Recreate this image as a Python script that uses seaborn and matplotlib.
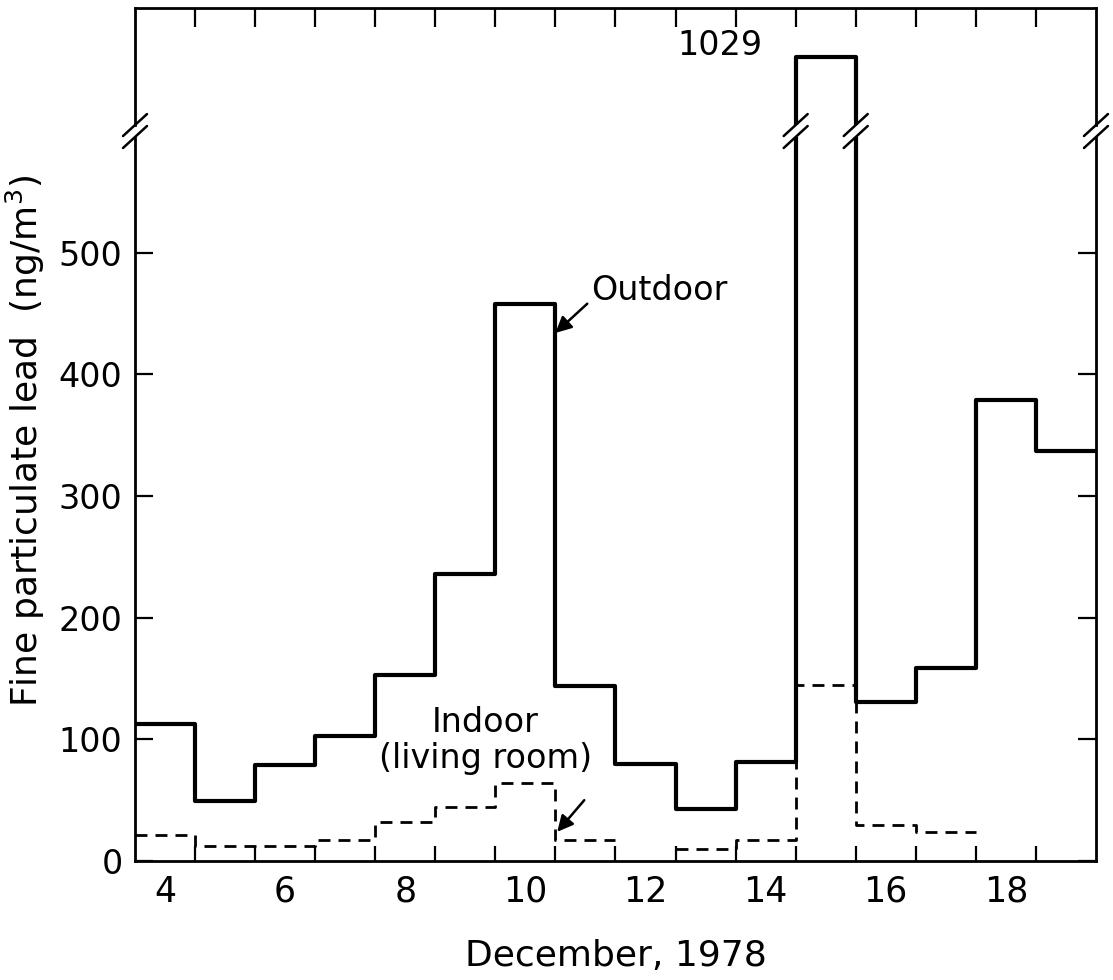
import numpy as np
import pandas as pd
import matplotlib
matplotlib.use("Agg")
import matplotlib.pyplot as plt
import seaborn as sns
from matplotlib.lines import Line2D

# Daily fine particulate lead (ng/m3), December 1978
days = np.arange(4, 20)
outdoor = [113, 49, 79, 103, 153, 236, 458, 144, 80, 43, 81, 1029, 131, 159, 379, 337]
indoor = [21, 12, 12, 17, 32, 44, 64, 17, np.nan, 10, 17, 145, 30, 24, np.nan, np.nan]
day_labels = [4, 6, 8, 10, 12, 14, 16, 18]
y_ticks = [0, 100, 200, 300, 400, 500]

sns.set_theme(style="ticks")
plt.rcParams['font.family'] = ['DejaVu Sans']
plt.rcParams['axes.linewidth'] = 2
for key in ['text.color', 'axes.labelcolor', 'xtick.color', 'ytick.color', 'axes.edgecolor']:
    plt.rcParams[key] = 'black'


def step_frame(vals, name):
    # turn one value per day into a stair outline, split where a day is missing
    rows = []
    seg = 0
    gap = True
    for d, v in zip(days, vals):
        if np.isnan(v):
            gap = True
            continue
        if gap:
            seg += 1
        gap = False
        rows.append((d - 0.5, v, seg))
        rows.append((d + 0.5, v, seg))
    return pd.DataFrame(rows, columns=["x", "y", "seg"]).assign(series=name)


out_df = step_frame(outdoor, "Outdoor")
in_df = step_frame(indoor, "Indoor")

fig = plt.figure(figsize=(11.13, 9.8), dpi=100)
ax_top = fig.add_axes([0.1213, 0.8724, 0.8634, 0.1194])
ax = fig.add_axes([0.1213, 0.1214, 0.8634, 0.7388])

for a in (ax, ax_top):
    sns.lineplot(data=out_df, x="x", y="y", units="seg", estimator=None, sort=False,
                 color="black", linewidth=3, legend=False, ax=a)
    sns.lineplot(data=in_df, x="x", y="y", units="seg", estimator=None, sort=False,
                 color="black", linewidth=2, linestyle=(0, (4.3, 2.9)), legend=False, ax=a)
    a.set_xlim(3.5, 19.5)
    a.set_xlabel("")
    a.set_ylabel("")
    a.set_xticks(days[:-1] + 0.5, minor=True)

ax.set_ylim(0, 595)
ax_top.set_ylim(970.9, 1070.9)

ax.spines['top'].set_visible(False)
ax_top.spines['bottom'].set_visible(False)

# lower panel ticks
ax.set_yticks(y_ticks)
ax.set_yticklabels([str(t) for t in y_ticks])
ax.set_xticks(day_labels)
ax.set_xticklabels([str(d) for d in day_labels])
ax.tick_params(axis='y', which='major', direction='in', length=13, width=1.6,
               left=True, right=True, pad=9, labelsize=24)
ax.tick_params(axis='x', which='major', length=0, pad=10, labelsize=25)
ax.tick_params(axis='x', which='minor', direction='in', length=11, width=1.6,
               bottom=True, top=False)

# upper panel ticks
ax_top.set_yticks([])
ax_top.set_xticks([])
ax_top.tick_params(axis='x', which='minor', direction='in', length=14, width=1.6,
                   top=True, bottom=False, labelbottom=False)

ax.set_xlabel("December, 1978", fontsize=26, labelpad=22)
ax.set_ylabel("Fine particulate lead  (ng/m$^3$)", fontsize=26)
ax.yaxis.set_label_coords(-0.092, 0.58)

# annotations
ax.annotate("", xy=(10.5, 434), xytext=(11.03, 458),
            arrowprops=dict(arrowstyle='-|>', color='black', lw=1.8,
                            mutation_scale=24, shrinkA=0, shrinkB=0))
ax.text(11.1, 469, "Outdoor", ha='left', va='center', fontsize=24)
ax.annotate("", xy=(10.53, 24), xytext=(10.98, 50),
            arrowprops=dict(arrowstyle='-|>', color='black', lw=1.8,
                            mutation_scale=24, shrinkA=0, shrinkB=0))
ax.text(9.33, 99, "Indoor\n(living room)", ha='center', va='center',
        fontsize=24, linespacing=1.1)
ax_top.text(13.95, 1039, "1029", ha='right', va='center', fontsize=24)

# axis break marks
y_low = 0.1214 + 0.7388
y_up = 0.8724
dx, dy = 12 / 1113, 11 / 980
for xb in [3.5, 14.5, 15.5, 19.5]:
    px, _ = ax.transData.transform((xb, 0))
    fx = px / fig.bbox.width
    for yf in (y_low, y_up):
        fig.add_artist(Line2D([fx - dx, fx + dx], [yf - dy, yf + dy],
                              transform=fig.transFigure, color='black', lw=1.8))

fig.savefig("out.png", dpi=100)
